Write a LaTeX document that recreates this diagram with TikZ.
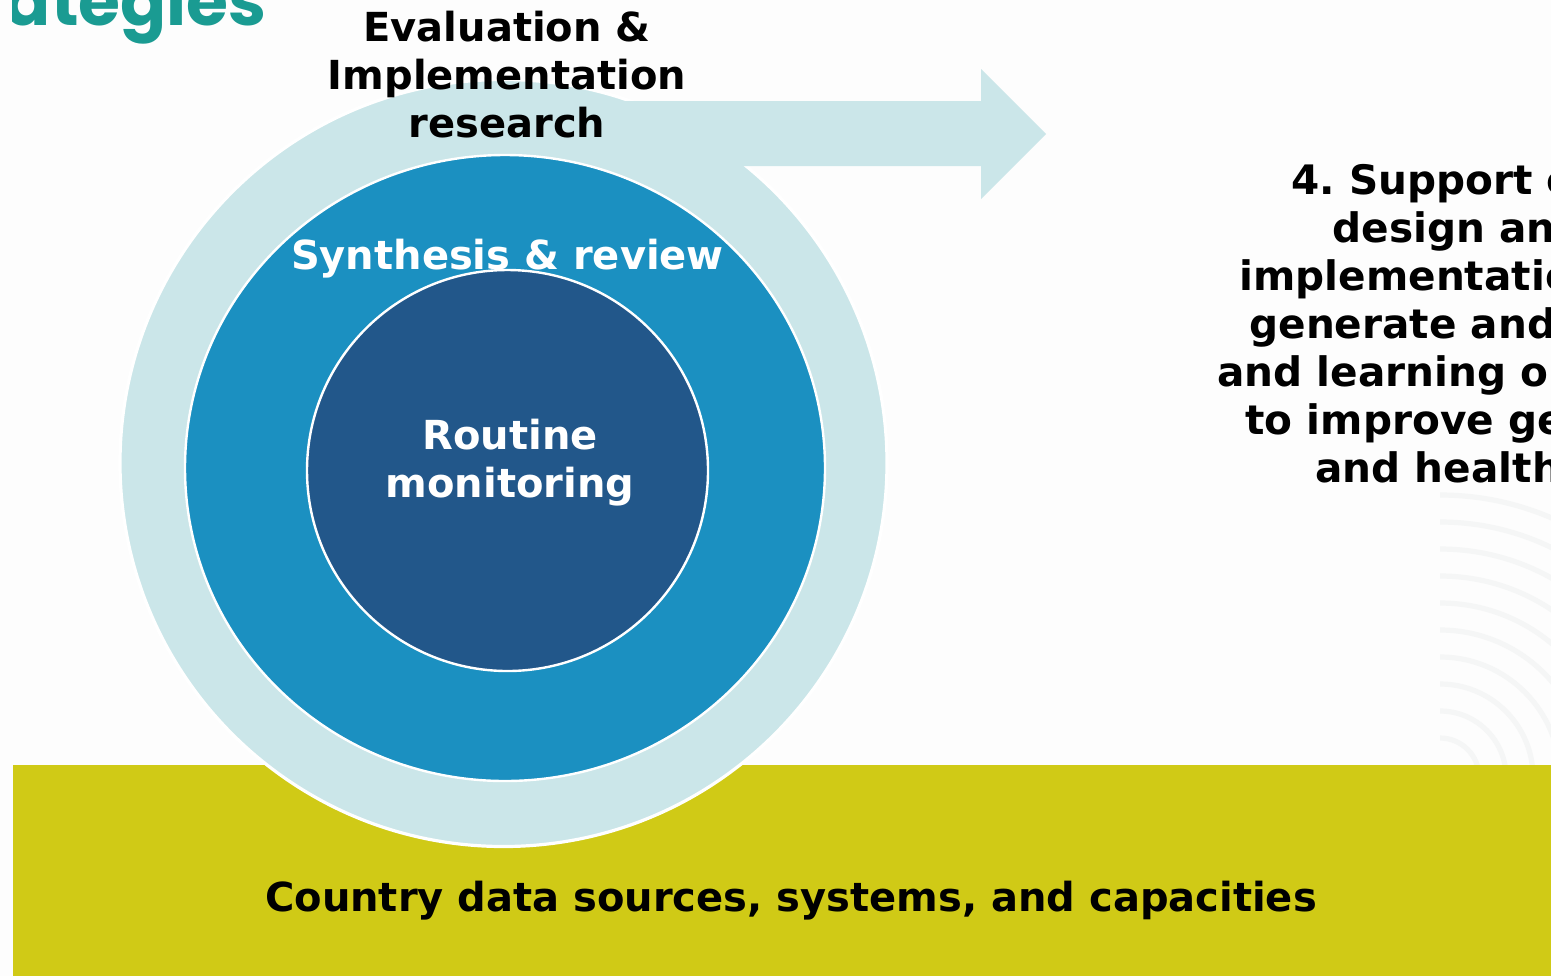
\documentclass[tikz,border=0pt]{standalone}
\usepackage{fontspec}
\setmainfont{DejaVu Sans}
\newfontfamily\poppins{Poppins}
\frenchspacing
\definecolor{bg}{HTML}{FDFDFD}
\definecolor{ringlight}{HTML}{CBE6E9}
\definecolor{midblue}{HTML}{1B90C1}
\definecolor{darkblue}{HTML}{22578A}
\definecolor{bandyellow}{HTML}{D0CA16}
\definecolor{titleteal}{HTML}{1A9B92}
\definecolor{arcgray}{HTML}{F5F6F6}
\begin{document}
\begin{tikzpicture}[x=0.5pt,y=-0.5pt,
  lbl/.style={font=\bfseries\fontsize{20}{24}\selectfont, align=center, inner sep=0pt},
  rline/.style={font=\bfseries\fontsize{20.3}{24}\selectfont, anchor=base west, inner sep=0pt},
  arcline/.style={draw=arcgray, line width=2.6pt},
  ringstyle/.style={fill=ringlight, draw=white, line width=1.6pt},
  discstyle/.style={draw=white, line width=1.2pt}]
\path[use as bounding box, fill=bg] (0,0) rectangle (1551,976);

% faint background arcs
\begin{scope}
  \clip (1440,0) rectangle (1551,765);
  \foreach \r in {282,255,...,39}
    \draw[arcline] (1440,777) ++(0,-\r) arc[start angle=-90, end angle=0, radius=\r];
\end{scope}

% title fragment
\begin{scope}
  \clip (12,0) rectangle (400,60);
  \node[anchor=base east, inner sep=0pt, text=titleteal, font=\poppins\bfseries\fontsize{34}{40}\selectfont] (title) at (267,25) {ategies};
\end{scope}

% bottom band
\fill[bandyellow] (13,765) rectangle (1551,976);

% outer ring
\draw[ringstyle] (503.5,463) circle[radius=383.5];
% arrow
\fill[ringlight] (590,101) -- (981,101) -- (981,69) -- (1046,134) -- (981,199) -- (981,166) -- (590,166) -- cycle;
% middle disc
\draw[discstyle, fill=midblue] (505,468) ellipse[x radius=320, y radius=313];
% inner disc
\draw[discstyle, fill=darkblue] (507.5,470.5) circle[radius=200.5];

% labels
\node[lbl] (eval) at (507,75) {Evaluation \&\\Implementation\\research};
\node[lbl, text=white, anchor=base] (synth) at (507.5,269) {Synthesis \& review};
\node[lbl, text=white] (routine) at (510,463) {Routine\\monitoring};
\node[lbl, anchor=base] (country) at (791,911) {Country data sources, systems, and capacities};

% right text (cut by the picture edge)
\node[rline] (s1) at (1291,194) {4. Support c};
\node[rline] (s2) at (1332,242) {design and};
\node[rline] (s3) at (1239,290) {implementation};
\node[rline] (s4) at (1249,338) {generate and};
\node[rline] (s5) at (1217,386) {and learning o};
\node[rline] (s6) at (1245,434) {to improve ge};
\node[rline] (s7) at (1315,482) {and health};
\end{tikzpicture}
\end{document}
